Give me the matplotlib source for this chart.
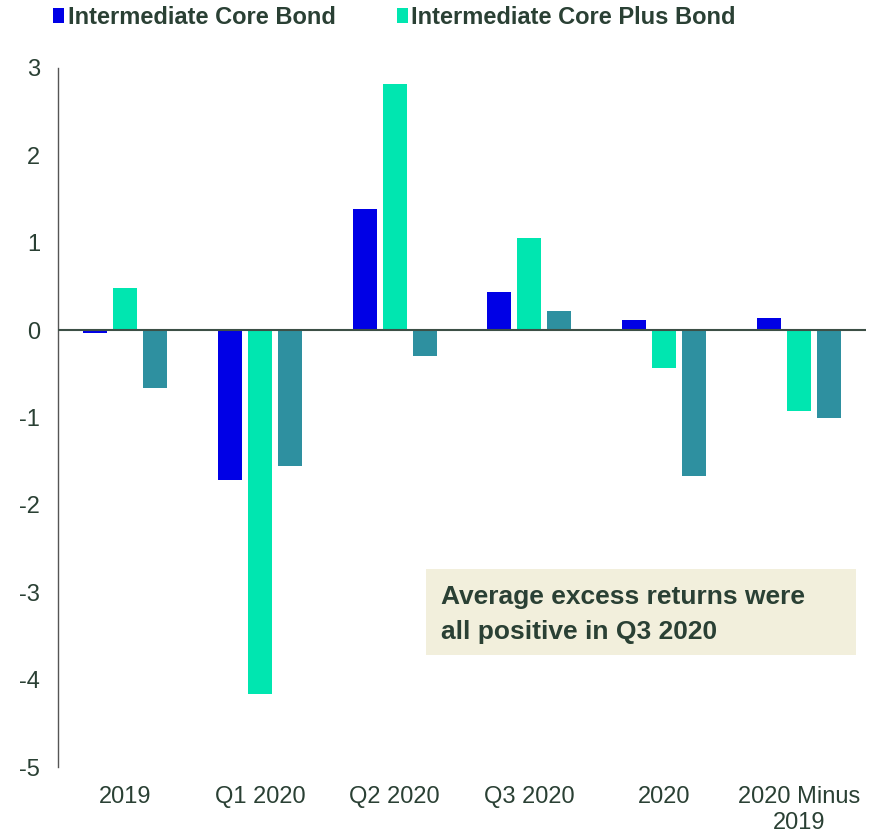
import matplotlib
matplotlib.use("Agg")
import matplotlib.pyplot as plt
import numpy as np
from matplotlib.patches import Rectangle

categories = ["2019", "Q1 2020", "Q2 2020", "Q3 2020", "2020", "2020 Minus\n2019"]
core = [-0.03, -1.72, 1.39, 0.44, 0.12, 0.14]
core_plus = [0.48, -4.17, 2.82, 1.05, -0.43, -0.92]
third = [-0.66, -1.55, -0.30, 0.22, -1.67, -1.00]
series_names = ["Intermediate Core Bond", "Intermediate Core Plus Bond"]
yticks = [3, 2, 1, 0, -1, -2, -3, -4, -5]

plt.rcParams['font.family'] = ['Liberation Sans', 'DejaVu Sans']
txt = '#2a4034'
c_blue, c_green, c_teal = '#0000e6', '#00e6b0', '#2e90a0'

fig = plt.figure(figsize=(8.81, 8.33), dpi=100)
ax = fig.add_axes([58/881, 1-767/833, (866-58)/881, (767-68)/833])

x = np.arange(len(categories))
w = 0.178
d = 0.223
ax.bar(x - d, core, w, color=c_blue, label=series_names[0])
ax.bar(x, core_plus, w, color=c_green, label=series_names[1])
ax.bar(x + d, third, w, color=c_teal)

ax.set_xlim(-0.5, len(categories) - 0.5)
ax.set_ylim(-5, 3)
ax.axhline(0, color='#3d4f46', lw=1.5, zorder=3)
for s in ['top', 'right', 'bottom']:
    ax.spines[s].set_visible(False)
ax.spines['left'].set_color('#555555')
ax.spines['left'].set_linewidth(1.0)
ax.set_yticks(yticks)
ax.set_yticklabels([str(v) for v in yticks])
ax.tick_params(axis='y', length=0, pad=13, labelsize=17, labelcolor=txt)
ax.set_xticks(x)
ax.set_xticklabels(categories, linespacing=1.2)
ax.tick_params(axis='x', length=0, pad=14, labelsize=17, labelcolor=txt)

# legend
fig.legend(loc='upper left', bbox_to_anchor=(44/881, 1.004), ncol=2, frameon=False,
           prop={'weight': 'bold', 'size': 17}, labelcolor=txt, handlelength=0.45,
           handleheight=0.6, handletextpad=0.15, columnspacing=2.6, borderaxespad=0.0)

# annotation box
fig.patches.append(Rectangle((426/881, 1-655/833), (856-426)/881, (655-569)/833,
                             transform=fig.transFigure, facecolor='#f2efdc', edgecolor='none'))
fig.text(441/881, 1-597/833, "Average excess returns were", fontsize=19, fontweight='bold',
         color=txt, va='center', ha='left')
fig.text(441/881, 1-632/833, "all positive in Q3 2020", fontsize=19, fontweight='bold',
         color=txt, va='center', ha='left')

fig.savefig("out.png", dpi=100)
